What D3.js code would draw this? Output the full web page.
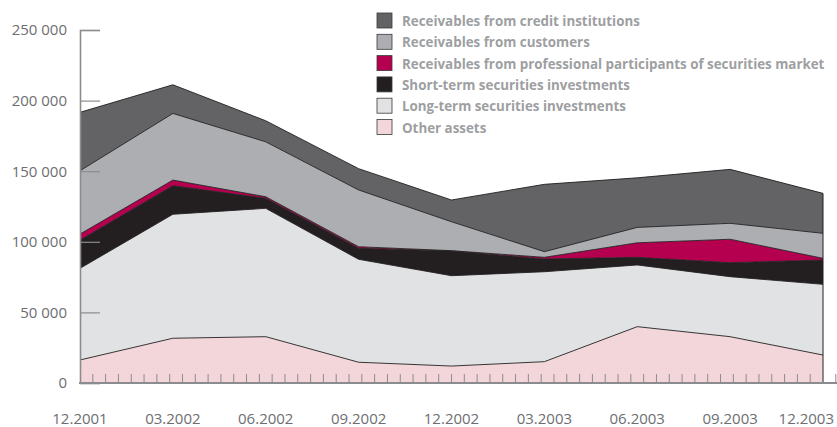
<!DOCTYPE html>
<html>
<head>
<meta charset="utf-8">
<script src="https://cdn.jsdelivr.net/npm/d3@7"></script>
<style>
  body { margin: 0; background: #fff; }
  svg { display: block; font-family: "Open Sans", sans-serif; }
</style>
</head>
<body>
<div id="chart"></div>
<script>
var dates = ["12.2001", "03.2002", "06.2002", "09.2002", "12.2002", "03.2003", "06.2003", "09.2003", "12.2003"];

// values per period (stack order bottom -> top)
var otherAssets   = [16300, 31700, 32800, 14700, 12000, 15100, 39900, 32800, 19800];
var longTerm      = [64900, 87800, 90900, 72900, 64000, 63700, 43700, 42500, 50100];
var shortTerm     = [20000, 20200,  7100,  7800, 17500,  9000,  5400,  9900, 17200];
var professional  = [ 4300,  4000,  1100,  1100,   200,  1200, 10300, 16600,  1200];
var customers     = [44800, 47200, 38900, 40200, 20500,  4000, 10900, 11300, 17700];
var creditInst    = [41400, 20300, 14900, 15100, 15400, 47700, 35100, 38200, 28300];

var yTicks = [0, 50000, 100000, 150000, 200000, 250000];

var series = [
    {key: "other", label: "Other assets", values: otherAssets, color: "#f3d6d9"},
    {key: "long", label: "Long-term securities investments", values: longTerm, color: "#e1e2e4"},
    {key: "short", label: "Short-term securities investments", values: shortTerm, color: "#231f20"},
    {key: "prof", label: "Receivables from professional participants of securities market", values: professional, color: "#b4004e"},
    {key: "cust", label: "Receivables from customers", values: customers, color: "#adaeb1"},
    {key: "credit", label: "Receivables from credit institutions", values: creditInst, color: "#636365"}
];

var width = 837, height = 427;
var margin = {left: 80, right: 14, top: 30, bottom: 44};

var table = dates.map(function(d, i){
    var row = {date: d};
    series.forEach(function(s){ row[s.key] = s.values[i]; });
    return row;
});

var svg = d3.select("#chart").append("svg")
    .attr("width", width)
    .attr("height", height);

var x = d3.scalePoint()
    .domain(dates)
    .range([margin.left, width - margin.right]);

var y = d3.scaleLinear()
    .domain([0, 250000])
    .range([height - margin.bottom, margin.top]);

var stack = d3.stack().keys(series.map(function(s){ return s.key; }));
var layers = stack(table);

var area = d3.area()
    .x(function(d){ return x(d.data.date); })
    .y0(function(d){ return y(d[0]); })
    .y1(function(d){ return y(d[1]); });

var topLine = d3.line()
    .x(function(d){ return x(d.data.date); })
    .y(function(d){ return y(d[1]); });

svg.append("g").selectAll("path")
    .data(layers)
    .enter()
    .append("path")
    .attr("d", area)
    .attr("fill", function(d, i){ return series[i].color; });

svg.append("g").selectAll("path")
    .data(layers)
    .enter()
    .append("path")
    .attr("d", topLine)
    .attr("fill", "none")
    .attr("stroke", "#231f20")
    .attr("stroke-width", 0.9);

// right edge
var lastTop = layers[layers.length - 1][dates.length - 1][1];
svg.append("line")
    .attr("x1", x(dates[dates.length - 1]))
    .attr("x2", x(dates[dates.length - 1]))
    .attr("y1", y(lastTop))
    .attr("y2", y(0))
    .attr("stroke", "#231f20")
    .attr("stroke-width", 1);

// y axis
var locale = d3.formatLocale({decimal: ".", thousands: " ", grouping: [3], currency: ["", ""]});
var fmt = locale.format(",");

var yAxis = svg.append("g")
    .attr("transform", `translate(${margin.left},0)`)
    .call(d3.axisLeft(y).tickValues(yTicks).tickFormat(fmt).tickSize(-20).tickPadding(13));

yAxis.select(".domain").attr("stroke", "#8b8c8f").attr("stroke-width", 1.6);
yAxis.selectAll(".tick line").attr("stroke", "#8b8c8f").attr("stroke-width", 1.2);
yAxis.selectAll(".tick text")
    .attr("fill", "#6d6e71")
    .style("font-size", "15px")
    .style("font-family", "Open Sans");

// bottom axis with minor ticks
var x0 = margin.left, xEnd = width - margin.right;
var step = (xEnd - x0) / 58;
var minor = d3.range(1, 60).map(function(k){ return x0 + k * step; });

svg.append("g").selectAll("line")
    .data(minor)
    .enter()
    .append("line")
    .attr("x1", function(d){ return d; })
    .attr("x2", function(d){ return d; })
    .attr("y1", y(0))
    .attr("y2", y(0) - 9)
    .attr("stroke", "#8b8c8f")
    .attr("stroke-width", 1);

svg.append("line")
    .attr("x1", margin.left - 1)
    .attr("x2", width)
    .attr("y1", y(0))
    .attr("y2", y(0))
    .attr("stroke", "#8b8c8f")
    .attr("stroke-width", 2);

svg.append("g").selectAll("text")
    .data(dates)
    .enter()
    .append("text")
    .attr("x", function(d, i){ return i === dates.length - 1 ? width - 3 : x(d); })
    .attr("y", 424)
    .attr("text-anchor", function(d, i){ return i === dates.length - 1 ? "end" : "middle"; })
    .attr("fill", "#6d6e71")
    .style("font-size", "15px")
    .text(function(d){ return d; });

// legend
var legendItems = series.slice().reverse();
var legend = svg.append("g")
    .attr("transform", "translate(377,13)");

var rows = legend.selectAll("g")
    .data(legendItems)
    .enter()
    .append("g")
    .attr("transform", function(d, i){ return `translate(0, ${i * 21.3})`; });

rows.append("rect")
    .attr("width", 15)
    .attr("height", 15)
    .attr("fill", function(d){ return d.color; })
    .attr("stroke", "#3a3a3c")
    .attr("stroke-width", 0.8);

var labels = rows.append("text")
    .attr("x", 0)
    .attr("y", 13)
    .attr("fill", "#9d9fa2")
    .style("font-size", "15px")
    .style("font-weight", "bold")
    .text(function(d){ return d.label; });

// condense legend text to match the narrow face
var longest = d3.max(labels.nodes(), function(n){ return n.getComputedTextLength(); });
var k = 423 / longest;
labels.attr("transform", `translate(25,0) scale(${k},1)`);
</script>
</body>
</html>
